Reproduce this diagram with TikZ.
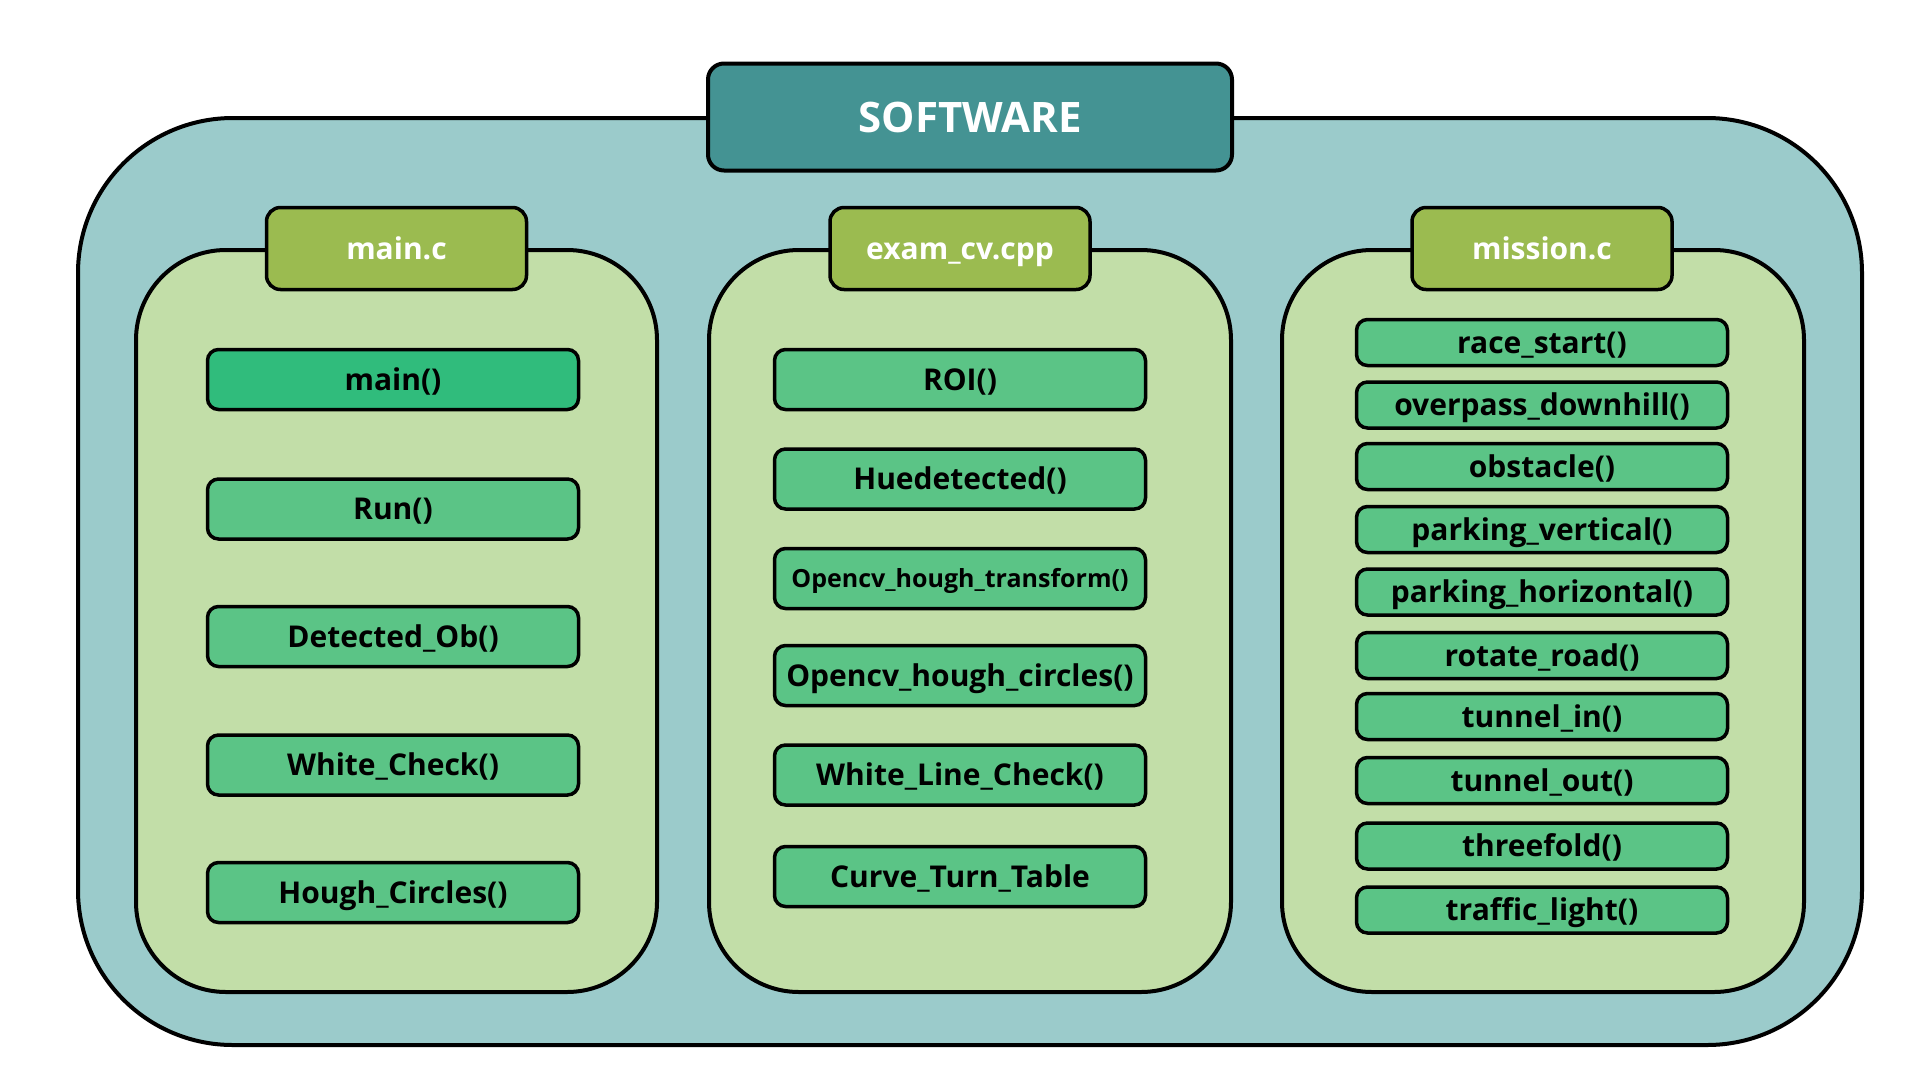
\documentclass[tikz,border=0pt]{standalone}
\usepackage{fontspec}
\setmainfont{Open Sans}

\definecolor{outerbg}{HTML}{9BCBCB}
\definecolor{titlebg}{HTML}{449393}
\definecolor{panelbg}{HTML}{C2DEA8}
\definecolor{tabbg}{HTML}{9BBB50}
\definecolor{funcbg}{HTML}{5BC486}
\definecolor{mainbg}{HTML}{30BC7C}

\tikzset{
  panel/.style={draw, line width=4pt, fill=panelbg, rounded corners=90pt},
  titlebox/.style={draw, line width=4pt, fill=titlebg, rounded corners=16pt,
    minimum width=524pt, minimum height=107pt, inner sep=0pt, text=white,
    text height=30pt, text depth=0pt,
    font=\fontsize{42}{50}\selectfont\bfseries},
  tabbox/.style={draw, line width=3.5pt, fill=tabbg, rounded corners=14pt,
    minimum width=260pt, minimum height=82pt, inner sep=0pt, text=white,
    text height=21.5pt, text depth=0pt,
    font=\fontsize{30}{36}\selectfont\bfseries},
  func/.style={draw, line width=3.5pt, fill=funcbg, rounded corners=11pt,
    minimum width=371pt, minimum height=60pt, inner sep=0pt,
    text height=21.5pt, text depth=0pt,
    font=\fontsize{30}{36}\selectfont\bfseries},
  smallfunc/.style={func, minimum height=46pt}
}

\begin{document}
\begin{tikzpicture}[x=1pt, y=-1pt]
		\useasboundingbox (0,0) rectangle (1920,1080);
		
		% Rahmen
		\draw[line width=4pt, fill=outerbg, rounded corners=155pt] (78,118) rectangle (1862,1045);
		\node[titlebox] (software) at (970,117) {SOFTWARE};
		
		% Spalten
		\draw[panel] (136,250) rectangle (657,992);
		\draw[panel] (709,250) rectangle (1231,992);
		\draw[panel] (1282,250) rectangle (1804,992);
		
		\node[tabbox] (mainc) at (396.5,248.5) {main.c};
		\node[tabbox] (examcv) at (960,248.5) {exam\_cv.cpp};
		\node[tabbox] (missionc) at (1542,248.5) {mission.c};
		
		% main.c
		\node[func, fill=mainbg] (fmain) at (393,379.5) {main()};
		\node[func] (frun) at (393,509) {Run()};
		\node[func] (fdetect) at (393,636.5) {Detected\_Ob()};
		\node[func] (fwhite) at (393,765) {White\_Check()};
		\node[func] (fhough) at (393,892.5) {Hough\_Circles()};
		
		% exam_cv.cpp
		\node[func] (froi) at (960,379.5) {ROI()};
		\node[func] (fhue) at (960,479) {Huedetected()};
		\node[func, text height=18pt, font=\fontsize{25}{30}\selectfont\bfseries] (ftransform) at (960,578.5) {Opencv\_hough\_transform()};
		\node[func] (fcircles) at (960,675.5) {Opencv\_hough\_circles()};
		\node[func] (fwhiteline) at (960,775) {White\_Line\_Check()};
		\node[func] (fcurve) at (960,876.5) {Curve\_Turn\_Table};
		
		% mission.c
		\node[smallfunc] (frace) at (1542,342.5) {race\_start()};
		\node[smallfunc] (foverpass) at (1542,405) {overpass\_downhill()};
		\node[smallfunc] (fobstacle) at (1542,466.5) {obstacle()};
		\node[smallfunc] (fvertical) at (1542,529.5) {parking\_vertical()};
		\node[smallfunc] (fhorizontal) at (1542,592) {parking\_horizontal()};
		\node[smallfunc] (frotate) at (1542,655.5) {rotate\_road()};
		\node[smallfunc] (ftunnelin) at (1542,716.5) {tunnel\_in()};
		\node[smallfunc] (ftunnelout) at (1542,780.5) {tunnel\_out()};
		\node[smallfunc] (fthreefold) at (1542,846) {threefold()};
		\node[smallfunc] (ftraffic) at (1542,910) {traffic\_light()};
	\end{tikzpicture}
\end{document}
